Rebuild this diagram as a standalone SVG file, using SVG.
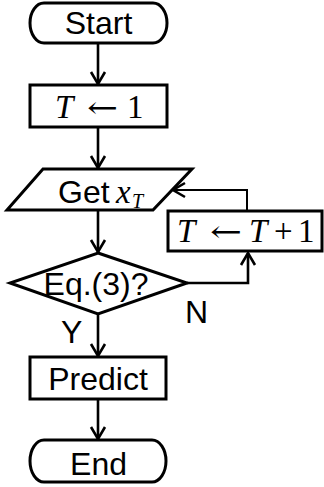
<svg xmlns="http://www.w3.org/2000/svg" width="324" height="487" viewBox="0 0 324 487">
<style>
.shape{fill:#fff;stroke:#000;stroke-width:3}
.conn{fill:none;stroke:#000;stroke-width:2.6}
.thin{fill:none;stroke:#000;stroke-width:2}
.lbl{font-family:"Liberation Sans",Arial,sans-serif;font-size:32px;fill:#000}
.math{font-family:"Liberation Serif","Times New Roman",serif;font-size:33px;fill:#000}
.arr{font-family:"DejaVu Serif",serif;font-size:30px;fill:#000}
.it{font-style:italic}
</style>
<defs>
<marker id="ah" markerUnits="userSpaceOnUse" markerWidth="20" markerHeight="20" refX="0" refY="0" viewBox="-14 -10 16 20" orient="auto" overflow="visible">
<path d="M-12,-7 L0,0 L-12,7" fill="none" stroke="#000" stroke-width="2.6"/>
</marker>
</defs>
<g id="connectors">
<line class="conn" x1="98" y1="43" x2="98" y2="84" marker-end="url(#ah)"/>
<line class="conn" x1="98" y1="127" x2="98" y2="168" marker-end="url(#ah)"/>
<line class="conn" x1="98" y1="210" x2="98" y2="252" marker-end="url(#ah)"/>
<polyline class="conn" points="187,283 248,283 248,253" marker-end="url(#ah)"/>
<polyline class="thin" points="247,211 247,190 173,190" marker-end="url(#ah)"/>
<line class="conn" x1="98" y1="314" x2="98" y2="356" marker-end="url(#ah)"/>
<line class="conn" x1="98" y1="399" x2="98" y2="439" marker-end="url(#ah)"/>
<text class="lbl" x="185" y="323">N</text>
<text class="lbl" x="61" y="343">Y</text>
</g>
<g id="start">
<rect class="shape" x="30" y="3" width="137" height="40" rx="14" ry="20"/>
<text class="lbl" x="98.5" y="34" text-anchor="middle">Start</text>
</g>
<g id="init">
<rect class="shape" x="30" y="85" width="137" height="42"/>
<text class="math it" x="55" y="118">T</text>
<text class="arr" x="87" y="118" textLength="31" lengthAdjust="spacingAndGlyphs">←</text>
<text class="math" x="127" y="118">1</text>
</g>
<g id="get">
<polygon class="shape" points="43,169 192,169 153,210 7,210"/>
<text class="lbl" x="58" y="203">Get</text>
<text class="math it" x="116" y="203">x</text>
<text class="math it" x="132" y="208" style="font-size:20px">T</text>
</g>
<g id="decision">
<polygon class="shape" points="98,253 187,283 98,314 10,283"/>
<text class="lbl" x="96" y="295" text-anchor="middle">Eq.(3)?</text>
</g>
<g id="increment">
<rect class="shape" x="168" y="211" width="154" height="40"/>
<text class="math it" x="177" y="242">T</text>
<text class="arr" x="210" y="242" textLength="32" lengthAdjust="spacingAndGlyphs">←</text>
<text class="math it" x="249" y="242">T</text>
<text class="math" x="274" y="242">+</text>
<text class="math" x="298" y="242">1</text>
</g>
<g id="predict">
<rect class="shape" x="30" y="357" width="136" height="42"/>
<text class="lbl" x="98" y="390" text-anchor="middle">Predict</text>
</g>
<g id="end">
<rect class="shape" x="30" y="440" width="136" height="42" rx="14" ry="21"/>
<text class="lbl" x="98.5" y="475" text-anchor="middle">End</text>
</g>
</svg>
